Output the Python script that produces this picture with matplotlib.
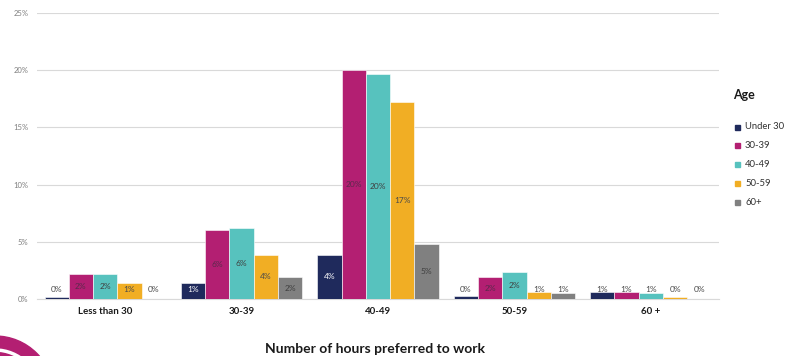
import numpy as np
import matplotlib
matplotlib.use("Agg")
import matplotlib.pyplot as plt
from matplotlib.patches import Circle, Arc

plt.rcParams['font.family'] = ['Lato', 'DejaVu Sans']

# hours preferred to work, share of respondents (%) by age group
hours = ['Less than 30', '30-39', '40-49', '50-59', '60 +']
ages = ['Under 30', '30-39', '40-49', '50-59', '60+']
under_30 = [0.2, 1.4, 3.85, 0.3, 0.6]
age_30_39 = [2.2, 6.0, 20.0, 1.9, 0.6]
age_40_49 = [2.2, 6.2, 19.7, 2.4, 0.5]
age_50_59 = [1.4, 3.85, 17.2, 0.6, 0.2]
age_60_plus = [0.0, 1.9, 4.8, 0.55, 0.0]

series = [under_30, age_30_39, age_40_49, age_50_59, age_60_plus]
colors = ['#1f2a5c', '#b31f72', '#57c2be', '#f1ae24', '#808080']
label_colors = ['white', '#5a2a4c', '#3f3f3f', '#4a4a4a', '#3f3f3f']

fig = plt.figure(figsize=(7.85, 3.56), dpi=100)
ax = fig.add_axes([37/785, 57/356, 682/785, 286/356])

x = np.arange(len(hours))
w = 0.178
for i, (vals, col) in enumerate(zip(series, colors)):
    pos = x + (i - 2) * w
    ax.bar(pos, vals, width=w, color=col, edgecolor='white', linewidth=0.4, zorder=3)
    for p, v in zip(pos, vals):
        lab = f"{int(v + 0.5)}%"
        y = max(v / 2, 0.8)
        tc = label_colors[i] if v >= 1.0 else '#4a4a4a'
        ax.text(p, y, lab, ha='center', va='center', fontsize=6, color=tc, zorder=4)

ax.set_xlim(-0.5, 4.5)
ax.set_ylim(0, 25)
ax.set_yticks(np.arange(0, 26, 5))
ax.set_yticklabels([f"{t}%" for t in range(0, 26, 5)], fontsize=5.5, color='#7f7f7f')
ax.yaxis.grid(True, color='#d9d9d9', linewidth=0.8, zorder=0)
ax.set_xticks(x)
ax.set_xticklabels(hours, fontsize=7, fontweight='bold', color='#1a1a1a')
ax.tick_params(axis='both', length=0)
ax.tick_params(axis='x', pad=6)
ax.tick_params(axis='y', pad=6)
for s in ['top', 'right', 'left']:
    ax.spines[s].set_visible(False)
ax.spines['bottom'].set_color('#d9d9d9')
ax.spines['bottom'].set_linewidth(0.8)

fig.text(375/785, 1 - 349/356, 'Number of hours preferred to work', ha='center', va='center',
         fontsize=10, fontweight='bold', color='#1a1a1a')

# legend on the right
fig.text(733/785, 1 - 95/356, 'Age', ha='left', va='center', fontsize=9, fontweight='bold',
         color='#1a1a1a')
for i, (name, col) in enumerate(zip(ages, colors)):
    yy = 1 - (127 + i * 18.8) / 356
    fig.patches.append(plt.Rectangle((735/785, yy - 2.5/356), 5/785, 5/356,
                                     transform=fig.transFigure, color=col))
    fig.text(745/785, yy, name, ha='left', va='center', fontsize=6.8, color='#333333')

# corner decoration
deco = fig.add_axes([0, 0, 1, 1], zorder=-1)
deco.set_xlim(0, 785)
deco.set_ylim(356, 0)
deco.axis('off')
deco.add_patch(Circle((-5, 395), 59, color='#b31f72'))
deco.add_patch(Arc((-5, 395), 90, 90, theta1=270, theta2=360, color='white', linewidth=2.5))

fig.savefig('out.png', dpi=100)
